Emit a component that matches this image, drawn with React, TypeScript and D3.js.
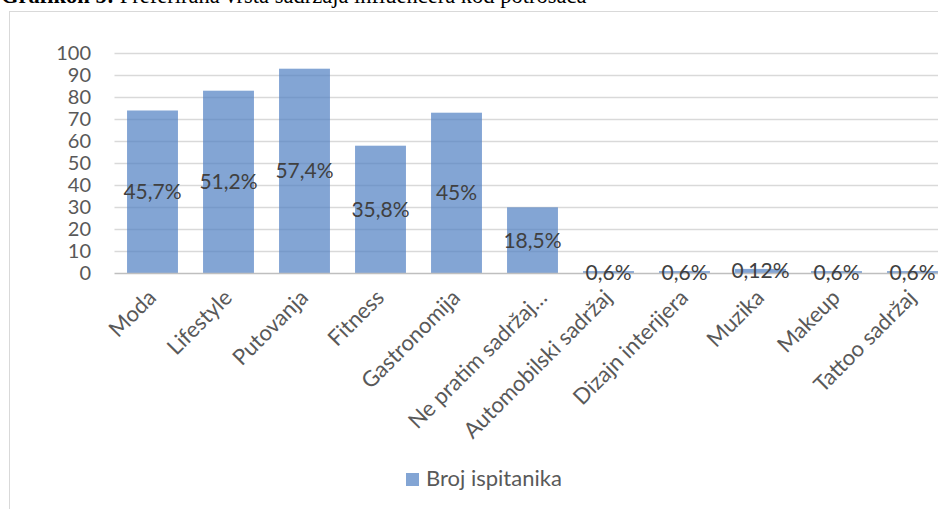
import React, {useEffect, useRef} from 'react';
import * as d3 from "d3";

// chart data
const categories = [
    "Moda", "Lifestyle", "Putovanja", "Fitness", "Gastronomija",
    "Ne pratim sadržaj…", "Automobilski sadržaj", "Dizajn interijera",
    "Muzika", "Makeup", "Tattoo sadržaj"
];
const counts = [74, 83, 93, 58, 73, 30, 1, 1, 2, 1, 1];
const percentLabels = [
    "45,7%", "51,2%", "57,4%", "35,8%", "45%", "18,5%",
    "0,6%", "0,6%", "0,12%", "0,6%", "0,6%"
];
const yTicks = [0, 10, 20, 30, 40, 50, 60, 70, 80, 90, 100];
const seriesName = "Broj ispitanika";

const W = 938;
const H = 509;
const FONT = "Lato, 'Open Sans', sans-serif";

const App = () => {
    const ref = useRef<SVGSVGElement>(null);

    useEffect(() => {
        const svg = d3.select(ref.current);
        svg.selectAll("*").remove();

        //title (cut off at top, as in the source document)
        const title = svg.append("text")
            .attr("x", 1)
            .attr("y", 3)
            .attr("font-family", "'Liberation Serif', 'Times New Roman', serif")
            .attr("font-size", 22.5)
            .attr("fill", "#000");
        title.append("tspan").attr("font-weight", "bold").text("Grafikon 5:");
        title.append("tspan").text(" Preferirana vrsta sadržaja influencera kod potrošača");

        //chart frame
        svg.append("rect")
            .attr("x", 9.5)
            .attr("y", 11.5)
            .attr("width", 1000)
            .attr("height", 600)
            .attr("fill", "#fff")
            .attr("stroke", "#d9d9d9")
            .attr("stroke-width", 1);

        const xScale = d3.scaleBand<string>()
            .domain(categories)
            .range([114.5, 950.5])
            .paddingInner(0.33)
            .paddingOuter(0.165);

        const yScale = d3.scaleLinear()
            .domain([0, 100])
            .range([273.3, 53.3]);

        //gridlines
        svg.append("g")
            .selectAll("line")
            .data(yTicks.filter(t => t > 0))
            .join("line")
            .attr("x1", 114.5)
            .attr("x2", 950.5)
            .attr("y1", d => Math.round(yScale(d)) + 0.5)
            .attr("y2", d => Math.round(yScale(d)) + 0.5)
            .attr("stroke", "#d9d9d9")
            .attr("stroke-width", 1.3);

        //y tick labels
        svg.append("g")
            .selectAll("text")
            .data(yTicks)
            .join("text")
            .attr("x", 91)
            .attr("y", d => yScale(d))
            .attr("dy", "0.35em")
            .attr("text-anchor", "end")
            .attr("font-family", FONT)
            .attr("font-size", 20)
            .attr("fill", "#595959")
            .text(d => d);

        //bars
        svg.append("g")
            .selectAll("rect")
            .data(counts)
            .join("rect")
            .attr("x", (d, i) => xScale(categories[i])!)
            .attr("y", d => yScale(d))
            .attr("width", xScale.bandwidth())
            .attr("height", d => yScale(0) - yScale(d))
            .attr("fill", "#4f7fc2")
            .attr("fill-opacity", 0.7);

        //x axis line
        svg.append("line")
            .attr("x1", 114.5)
            .attr("x2", 950.5)
            .attr("y1", Math.round(yScale(0)) + 0.5)
            .attr("y2", Math.round(yScale(0)) + 0.5)
            .attr("stroke", "#bfbfbf")
            .attr("stroke-width", 1.5);

        //data labels in the middle of each bar
        svg.append("g")
            .selectAll("text")
            .data(counts)
            .join("text")
            .attr("x", (d, i) => xScale(categories[i])! + xScale.bandwidth() / 2)
            .attr("y", d => yScale(d / 2))
            .attr("dy", "0.35em")
            .attr("text-anchor", "middle")
            .attr("font-family", FONT)
            .attr("font-size", 21)
            .attr("fill", "#404040")
            .text((d, i) => percentLabels[i]);

        //category labels, rotated (the truncated one sits a bit further right)
        svg.append("g")
            .selectAll("text")
            .data(categories)
            .join("text")
            .attr("transform", d => {
                const shift = d.endsWith("…") ? 16 : 5;
                const cx = xScale(d)! + xScale.bandwidth() / 2 + shift;
                return "translate(" + cx + ",299) rotate(-45)";
            })
            .attr("text-anchor", "end")
            .attr("font-family", FONT)
            .attr("font-size", 22)
            .attr("fill", "#595959")
            .text(d => d);

        //legend
        const legend = svg.append("g").attr("transform", "translate(406,473)");
        legend.append("rect")
            .attr("width", 13)
            .attr("height", 13)
            .attr("fill", "#4f7fc2")
            .attr("fill-opacity", 0.7);
        legend.append("text")
            .attr("x", 20)
            .attr("y", 13)
            .attr("font-family", FONT)
            .attr("font-size", 22)
            .attr("fill", "#595959")
            .text(seriesName);
    }, []);

    return (
        <div style={{position: "absolute", left: 0, top: 0}}>
            <svg ref={ref} width={W} height={H} style={{display: "block", overflow: "hidden"}}/>
        </div>
    );
};

export default App;
